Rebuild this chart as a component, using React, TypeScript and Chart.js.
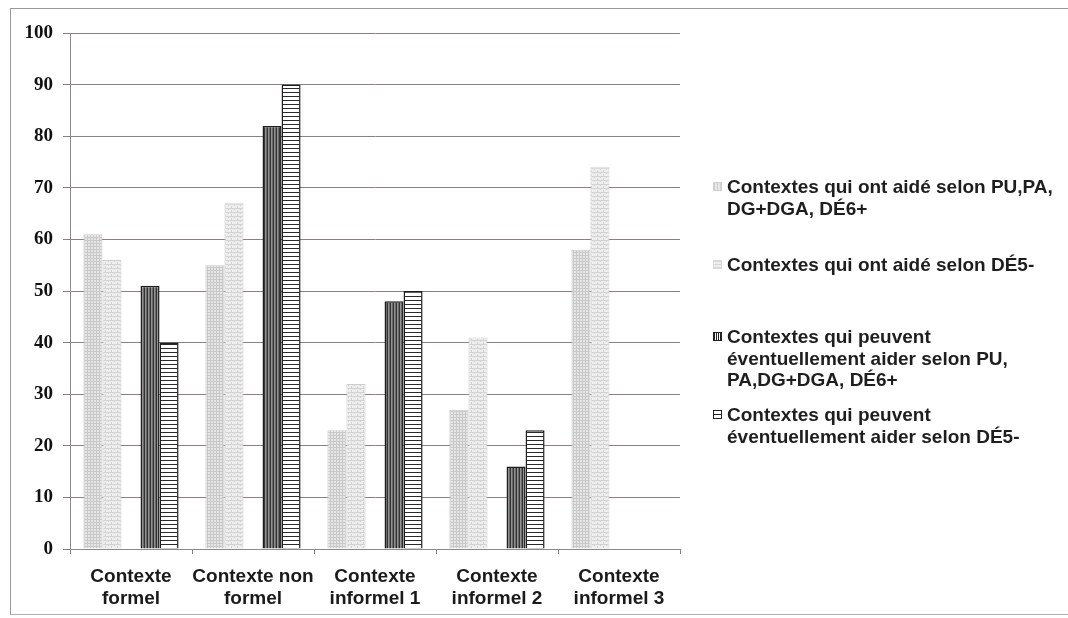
import React, { useEffect, useRef } from "react";
import { Chart, registerables } from "chart.js";

Chart.register(...registerables);

const categories: string[][] = [
  ["Contexte", "formel"],
  ["Contexte non", "formel"],
  ["Contexte", "informel 1"],
  ["Contexte", "informel 2"],
  ["Contexte", "informel 3"],
];
const aideSelonPU: (number | null)[] = [61, 55, 23, 27, 58];
const aideSelonDE5: (number | null)[] = [56, 67, 32, 41, 74];
const emptySeries: (number | null)[] = [null, null, null, null, null];
const peuventSelonPU: (number | null)[] = [51, 82, 48, 16, null];
const peuventSelonDE5: (number | null)[] = [40, 90, 50, 23, null];

const legendItems: string[][] = [
  ["Contextes qui ont aidé selon PU,PA,", "DG+DGA, DÉ6+"],
  ["Contextes qui ont aidé selon DÉ5-"],
  ["Contextes qui peuvent", "éventuellement aider selon PU,", "PA,DG+DGA, DÉ6+"],
  ["Contextes qui peuvent", "éventuellement aider selon DÉ5-"],
];

function makePattern(w: number, h: number, draw: (c: CanvasRenderingContext2D) => void) {
  const cv = document.createElement("canvas");
  cv.width = w;
  cv.height = h;
  const c = cv.getContext("2d")!;
  draw(c);
  const ctx = document.createElement("canvas").getContext("2d")!;
  return ctx.createPattern(cv, "repeat")!;
}

export default function App() {
  const ref = useRef<HTMLCanvasElement>(null);

  useEffect(() => {
    if (!ref.current) return;
    const p1 = makePattern(3, 3, (c) => {
      c.fillStyle = "#e6e6e6";
      c.fillRect(0, 0, 3, 3);
      c.fillStyle = "#c9c9c9";
      c.fillRect(0, 0, 1, 3);
      c.fillRect(0, 0, 3, 1);
    });
    const p2 = makePattern(6, 4, (c) => {
      c.fillStyle = "#eeeeee";
      c.fillRect(0, 0, 6, 4);
      c.fillStyle = "#d3d3d3";
      c.fillRect(0, 0, 6, 1);
      c.fillRect(0, 0, 1, 2);
      c.fillRect(3, 2, 1, 2);
    });
    const p3 = makePattern(3, 2, (c) => {
      c.fillStyle = "#939393";
      c.fillRect(0, 0, 3, 2);
      c.fillStyle = "#333333";
      c.fillRect(0, 0, 1, 2);
      c.fillStyle = "#6a6a6a";
      c.fillRect(2, 0, 1, 2);
    });
    const p4 = makePattern(2, 4, (c) => {
      c.fillStyle = "#ffffff";
      c.fillRect(0, 0, 2, 4);
      c.fillStyle = "#2a2a2a";
      c.fillRect(0, 0, 2, 1);
    });

    const chart = new Chart(ref.current, {
      type: "bar",
      data: {
        labels: categories,
        datasets: [
          { label: legendItems[0].join(" "), data: aideSelonPU, backgroundColor: p1, borderColor: "#c6c6c6", borderWidth: 1 },
          { label: legendItems[1].join(" "), data: aideSelonDE5, backgroundColor: p2, borderColor: "#cdcdcd", borderWidth: 1 },
          { label: "", data: emptySeries, backgroundColor: "transparent" },
          { label: legendItems[2].join(" "), data: peuventSelonPU, backgroundColor: p3, borderColor: "#1e1e1e", borderWidth: 1.5 },
          { label: legendItems[3].join(" "), data: peuventSelonDE5, backgroundColor: p4, borderColor: "#1e1e1e", borderWidth: 1.5 },
        ],
      },
      options: {
        responsive: false,
        animation: false,
        layout: { padding: { top: 33, right: 388, left: 0, bottom: 0 } },
        datasets: { bar: { barPercentage: 1, categoryPercentage: 0.78 } },
        plugins: { legend: { display: false }, tooltip: { enabled: false } },
        scales: {
          x: {
            grid: { display: true, drawOnChartArea: false, drawTicks: true, tickLength: 5, color: "#7f7f7f", offset: true },
            border: { display: true, color: "#8a8a8a", width: 1 },
            ticks: {
              color: "#1a1a1a",
              padding: 12,
              maxRotation: 0,
              autoSkip: false,
              font: { family: "'Liberation Sans', Arial, sans-serif", weight: "bold", size: 19, lineHeight: 1.15 },
            },
            afterFit: (s: any) => {
              s.height = 69;
            },
          },
          y: {
            min: 0,
            max: 100,
            ticks: {
              stepSize: 10,
              color: "#111",
              padding: 10,
              font: { family: "'Liberation Serif', 'Times New Roman', serif", weight: "bold", size: 19 },
            },
            grid: { color: "#8a8084", lineWidth: 1, tickLength: 7, drawTicks: true },
            border: { display: true, color: "#8a8a8a", width: 1 },
            afterFit: (s: any) => {
              s.width = 70;
            },
          },
        },
      },
    });
    return () => chart.destroy();
  }, []);

  const markerStyles: React.CSSProperties[] = [
    { background: "repeating-linear-gradient(90deg, #cfcfcf 0 1px, #e6e6e6 1px 3px)", border: "1px solid #d0d0d0" },
    { background: "repeating-linear-gradient(0deg, #d8d8d8 0 1px, #eeeeee 1px 3px)", border: "1px solid #dadada" },
    { background: "repeating-linear-gradient(90deg, #222 0 1px, #fff 1px 2px)", border: "1px solid #222" },
    { background: "linear-gradient(#fff 0 3px, #222 3px 4px, #fff 4px)", border: "1px solid #222" },
  ];
  const itemTops = [176, 254, 326, 404];

  return (
    <div style={{ position: "absolute", left: 0, top: 0, width: 1068, height: 618, overflow: "hidden", background: "#fff" }}>
      <div
        style={{
          position: "absolute",
          left: 10,
          top: 8,
          width: 1058,
          height: 607,
          borderTop: "1px solid #9a9a9a",
          borderLeft: "1px solid #9a9a9a",
          borderBottom: "1px solid #b0b0b0",
          boxSizing: "border-box",
        }}
      />
      <canvas ref={ref} width={1068} height={618} style={{ position: "absolute", left: 0, top: 0 }} />
      {legendItems.map((lines, i) => (
        <div
          key={i}
          style={{
            position: "absolute",
            left: 713,
            top: itemTops[i],
            fontFamily: "'Liberation Sans', Arial, sans-serif",
            fontWeight: "bold",
            fontSize: 19,
            lineHeight: "21.5px",
            color: "#1e1e1e",
            whiteSpace: "nowrap",
          }}
        >
          <span
            style={{
              position: "absolute",
              left: 0,
              top: 6,
              width: 9,
              height: 9,
              boxSizing: "border-box",
              ...markerStyles[i],
            }}
          />
          <div style={{ paddingLeft: 14 }}>
            {lines.map((l, j) => (
              <div key={j}>{l}</div>
            ))}
          </div>
        </div>
      ))}
    </div>
  );
}
